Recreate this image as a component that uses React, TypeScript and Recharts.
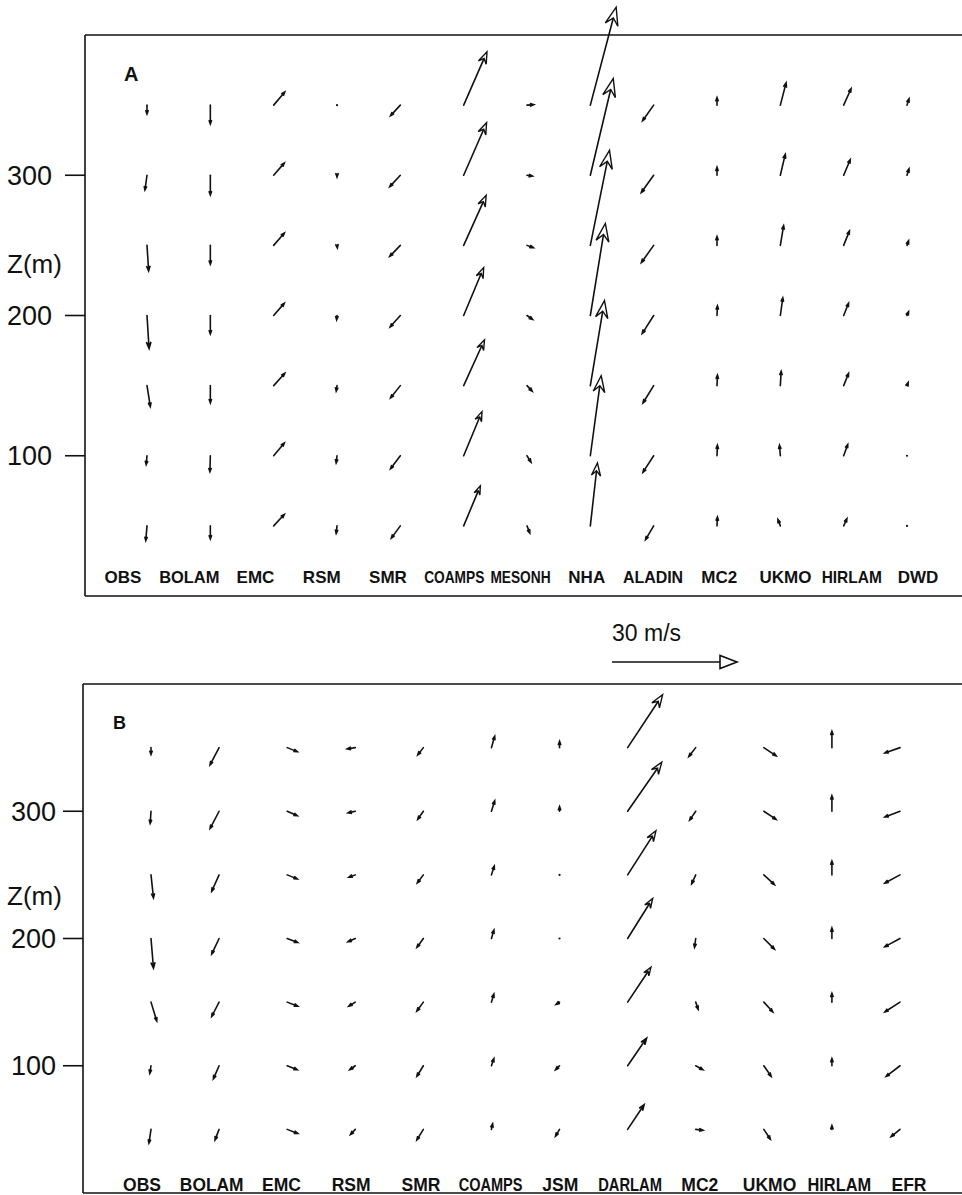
import React from 'react';
import { ScatterChart, Scatter, XAxis, YAxis, ReferenceLine } from 'recharts';

// profile levels (m), listed top to bottom
const HEIGHTS = [350, 300, 250, 200, 150, 100, 50];
const Z_TICKS = [100, 200, 300];

// panel A: one row per model, one value per level (m/s)
const MODELS_A = ['OBS', 'BOLAM', 'EMC', 'RSM', 'SMR', 'COAMPS', 'MESONH', 'NHA', 'ALADIN', 'MC2', 'UKMO', 'HIRLAM', 'DWD'];
const U_A = [
  [0, -0.5, 0.4, 0.5, 0.8, -0.2, -0.3],
  [0, 0, 0, 0, 0, -0.1, 0],
  [2.7, 2.6, 2.6, 2.6, 2.7, 2.6, 2.6],
  [0, 0, 0.1, -0.1, -0.2, -0.2, -0.2],
  [-2.4, -2.6, -2.6, -2.5, -2.4, -2.4, -2.2],
  [5.6, 5.5, 5.4, 4.8, 5.0, 4.4, 4.0],
  [1.7, 1.4, 1.6, 1.4, 1.3, 1.0, 0.7],
  [6.2, 5.5, 4.6, 3.6, 3.4, 2.6, 1.7],
  [-2.7, -3.0, -3.0, -2.8, -2.6, -2.6, -2.0],
  [0, 0, 0, 0.1, 0.1, 0.1, 0.1],
  [1.4, 1.2, 0.8, 0.6, 0.2, -0.2, -0.6],
  [1.8, 1.6, 1.4, 1.2, 1.2, 1.0, 0.8],
  [0.5, 0.5, 0.4, 0.4, 0.3, 0.1, 0.1],
];
const V_A = [
  [-2.2, -3.6, -6.2, -8.0, -5.1, -2.2, -3.6],
  [-4.6, -4.8, -4.6, -4.5, -4.2, -3.9, -3.2],
  [3.2, 3.0, 3.0, 3.0, 3.0, 3.1, 2.8],
  [-0.4, -0.5, -0.7, -1.1, -1.4, -1.8, -1.9],
  [-2.6, -2.8, -2.7, -2.8, -3.0, -3.2, -3.0],
  [12.8, 12.6, 12.0, 11.5, 11.0, 10.6, 9.6],
  [0.1, -0.2, -0.6, -1.0, -1.4, -1.6, -1.8],
  [23.5, 23.2, 22.8, 22.1, 20.4, 19.2, 15.1],
  [-3.8, -4.2, -4.2, -4.4, -4.2, -4.0, -3.4],
  [1.9, 2.0, 2.2, 2.4, 2.6, 2.6, 2.2],
  [5.4, 5.1, 4.8, 4.3, 3.5, 2.6, 1.6],
  [4.0, 3.8, 3.5, 3.0, 3.0, 2.8, 1.8],
  [1.6, 1.6, 1.2, 1.0, 0.8, 0.2, 0.2],
];

// panel B
const MODELS_B = ['OBS', 'BOLAM', 'EMC', 'RSM', 'SMR', 'COAMPS', 'JSM', 'DARLAM', 'MC2', 'UKMO', 'HIRLAM', 'EFR'];
const U_B = [
  [0, -0.2, 0.6, 0.6, 1.4, -0.3, -0.5],
  [-2.2, -2.2, -1.8, -1.8, -1.8, -1.4, -1.0],
  [2.5, 2.5, 2.5, 2.6, 2.6, 2.5, 2.6],
  [-2.0, -1.8, -1.6, -1.8, -1.6, -1.4, -1.2],
  [-1.4, -1.4, -1.5, -1.6, -1.6, -1.6, -1.6],
  [0.8, 0.8, 0.7, 0.6, 0.6, 0.6, 0.3],
  [0, 0, 0.1, 0.3, -0.9, -1.0, -1.0],
  [8.4, 8.2, 6.8, 6.0, 5.6, 4.6, 4.0],
  [-1.7, -1.5, -1.0, -0.3, 0.6, 1.8, 1.8],
  [3.0, 3.0, 2.6, 2.6, 2.2, 1.8, 1.6],
  [0, 0, 0, 0, 0, 0, 0],
  [-3.7, -3.7, -3.7, -3.7, -3.7, -3.4, -2.2],
];
const V_B = [
  [-1.7, -3.0, -5.6, -7.2, -4.6, -1.9, -3.4],
  [-4.2, -4.2, -4.0, -3.8, -3.5, -3.2, -2.6],
  [-1.0, -1.1, -1.0, -1.0, -1.0, -1.0, -1.0],
  [-0.3, -0.4, -0.6, -0.8, -1.0, -1.0, -1.3],
  [-1.8, -2.0, -2.0, -2.2, -2.2, -2.6, -2.6],
  [2.8, 2.6, 2.2, 2.1, 2.0, 1.8, 1.4],
  [1.6, 1.2, -0.3, 0, -0.6, -1.0, -1.7],
  [12.7, 11.8, 10.6, 9.6, 8.4, 6.7, 6.0],
  [-2.2, -2.2, -2.2, -2.2, -1.8, -1.0, -0.2],
  [-2.0, -2.0, -2.4, -2.6, -2.4, -2.6, -2.4],
  [4.0, 3.8, 3.4, 2.6, 2.2, 1.8, 1.0],
  [-1.3, -1.4, -2.0, -2.0, -2.4, -2.6, -1.8],
];

const KEY_SPEED = 30; // m/s
const PX_PER_MS = 125 / KEY_SPEED;
const Z_MAX = 400;

const W = 962;
const H = 1195;
const INK = '#111';
const FONT = '"Liberation Sans", Arial, Helvetica, sans-serif';

// bold glyph advances (em) for the capitals used in model names
const BOLD_EM: Record<string, number> = {
  A: 0.722, B: 0.722, C: 0.722, D: 0.722, E: 0.667, F: 0.611, H: 0.722, I: 0.278, J: 0.556,
  K: 0.722, L: 0.611, M: 0.833, N: 0.722, O: 0.778, P: 0.667, R: 0.722, S: 0.667, U: 0.722,
  W: 0.944, '2': 0.556,
};
const textWidth = (s: string, size: number) =>
  s.split('').reduce((w, c) => w + (BOLD_EM[c] ?? 0.7), 0) * size;

type Pt = { x: number; h: number; u: number; v: number };

const buildPoints = (u: number[][], v: number[][]): Pt[] =>
  u.flatMap((col, i) => col.map((uu, j) => ({ x: i, h: HEIGHTS[j], u: uu, v: v[i][j] })));

// wind vector with its tail on the level, length PX_PER_MS per m/s
const WindArrow = ({ cx, cy, u, v }: { cx: number; cy: number; u: number; v: number }) => {
  const dx = u * PX_PER_MS;
  const dy = -v * PX_PER_MS;
  const len = Math.hypot(dx, dy);
  if (len < 2) return <circle cx={cx} cy={cy} r={1.1} fill={INK} />;
  const ux = dx / len;
  const uy = dy / len;
  const head = Math.min(18, Math.max(4, len * 0.2));
  const hw = head * 0.36;
  const tx = cx + dx;
  const ty = cy + dy;
  const bx = tx - ux * head;
  const by = ty - uy * head;
  const nx = tx - ux * head * 0.62;
  const ny = ty - uy * head * 0.62;
  const pts = [
    [tx, ty],
    [bx - uy * hw, by + ux * hw],
    [nx, ny],
    [bx + uy * hw, by - ux * hw],
  ]
    .map((p) => p.join(','))
    .join(' ');
  const small = head < 7;
  return (
    <g>
      <line x1={cx} y1={cy} x2={nx} y2={ny} stroke={INK} strokeWidth={1.6} strokeLinecap="round" />
      <polygon points={pts} fill={small ? INK : '#fff'} stroke={INK} strokeWidth={1.4} strokeLinejoin="miter" />
    </g>
  );
};

type Layout = {
  top: number;
  height: number;
  marginTop: number;
  marginBottom: number;
  axisWidth: number;
  firstCol: number;
  lastCol: number;
  firstName: number;
  lastName: number;
  nameLift: number;
  nameSize: number;
  tickMargin: number;
};

const NameTick = (props: any) => {
  const { x, y, payload, names, lift, size, room } = props;
  const label: string = names[Math.round(payload.value)] ?? '';
  const squeeze =
    textWidth(label, size) > room ? { textLength: room, lengthAdjust: 'spacingAndGlyphs' } : {};
  return (
    <text
      x={x}
      y={y - lift}
      textAnchor="middle"
      fontFamily={FONT}
      fontSize={size}
      fontWeight={700}
      fill={INK}
      {...squeeze}
    >
      {label}
    </text>
  );
};

const linearDomain = (first: number, last: number, n: number, left: number, right: number) => {
  const step = (last - first) / (n - 1);
  return [-(first - left) / step, n - 1 + (right - last) / step];
};

const Panel = ({ names, u, v, layout }: { names: string[]; u: number[][]; v: number[][]; layout: Layout }) => {
  const n = names.length;
  const points = buildPoints(u, v);
  const nameRow = names.map((name, i) => ({ x: i, h: 0, name }));
  const colDomain = linearDomain(layout.firstCol, layout.lastCol, n, layout.axisWidth, W);
  const nameDomain = linearDomain(layout.firstName, layout.lastName, n, layout.axisWidth, W);
  const room = (layout.lastName - layout.firstName) / (n - 1) - 6;
  return (
    <div style={{ position: 'absolute', left: 0, top: layout.top }}>
      <ScatterChart
        width={W}
        height={layout.height}
        margin={{ top: layout.marginTop, right: 0, bottom: layout.marginBottom, left: 0 }}
      >
        <XAxis
          xAxisId="name"
          type="number"
          dataKey="x"
          domain={nameDomain}
          ticks={names.map((_, i) => i)}
          interval={0}
          height={2}
          tickSize={0}
          tickMargin={0}
          tickLine={false}
          axisLine={{ stroke: INK, strokeWidth: 1.5 }}
          tick={<NameTick names={names} lift={layout.nameLift} size={layout.nameSize} room={room} />}
        />
        <XAxis xAxisId="col" type="number" dataKey="x" domain={colDomain} height={0} hide />
        <YAxis
          type="number"
          dataKey="h"
          domain={[0, Z_MAX]}
          ticks={Z_TICKS}
          width={layout.axisWidth}
          tickSize={20}
          tickMargin={layout.tickMargin}
          axisLine={{ stroke: INK, strokeWidth: 1.6 }}
          tickLine={{ stroke: INK, strokeWidth: 1.6 }}
          tick={{ fontSize: 27, fill: INK, fontFamily: FONT }}
        />
        <ReferenceLine xAxisId="col" y={Z_MAX} stroke={INK} strokeWidth={1.5} ifOverflow="visible" />
        {/* model names sit on their own axis along the bottom edge */}
        <Scatter xAxisId="name" data={nameRow} isAnimationActive={false} shape={() => <g />} />
        <Scatter
          xAxisId="col"
          data={points}
          isAnimationActive={false}
          shape={(p: any) => <WindArrow cx={p.cx} cy={p.cy} u={p.payload.u} v={p.payload.v} />}
        />
      </ScatterChart>
    </div>
  );
};

const LAYOUT_A: Layout = {
  top: 0,
  height: 601,
  marginTop: 35,
  marginBottom: 3,
  axisWidth: 85,
  firstCol: 147,
  lastCol: 907,
  firstName: 123,
  lastName: 918,
  nameLift: 13,
  nameSize: 17,
  tickMargin: 13,
};

const LAYOUT_B: Layout = {
  top: 640,
  height: 555,
  marginTop: 44,
  marginBottom: 0,
  axisWidth: 83,
  firstCol: 151,
  lastCol: 900,
  firstName: 142,
  lastName: 909,
  nameLift: 2,
  nameSize: 17.5,
  tickMargin: 7,
};

// scale key: a KEY_SPEED vector with an open head
const KeyArrow = ({ x, y }: { x: number; y: number }) => {
  const len = KEY_SPEED * PX_PER_MS;
  const head = 17;
  const hw = 6.5;
  const tip = x + len;
  return (
    <g>
      <line x1={x} y1={y} x2={tip - head} y2={y} stroke={INK} strokeWidth={1.6} />
      <polygon
        points={`${tip},${y} ${tip - head},${y - hw} ${tip - head},${y + hw}`}
        fill="#fff"
        stroke={INK}
        strokeWidth={1.6}
      />
    </g>
  );
};

export default function App() {
  return (
    <div style={{ position: 'absolute', left: 0, top: 0, width: W, height: H, overflow: 'hidden' }}>
      <Panel names={MODELS_A} u={U_A} v={V_A} layout={LAYOUT_A} />
      <Panel names={MODELS_B} u={U_B} v={V_B} layout={LAYOUT_B} />
      <svg
        width={W}
        height={H}
        style={{ position: 'absolute', left: 0, top: 0, pointerEvents: 'none' }}
        fontFamily={FONT}
        fill={INK}
      >
        <text x={124} y={81} fontSize={20} fontWeight={700}>A</text>
        <text x={113} y={729} fontSize={18} fontWeight={700}>B</text>
        <text x={7} y={273} fontSize={26}>Z(m)</text>
        <text x={7} y={905} fontSize={26}>Z(m)</text>
        <text x={612} y={641} fontSize={23}>30 m/s</text>
        <KeyArrow x={612} y={662} />
      </svg>
    </div>
  );
}
